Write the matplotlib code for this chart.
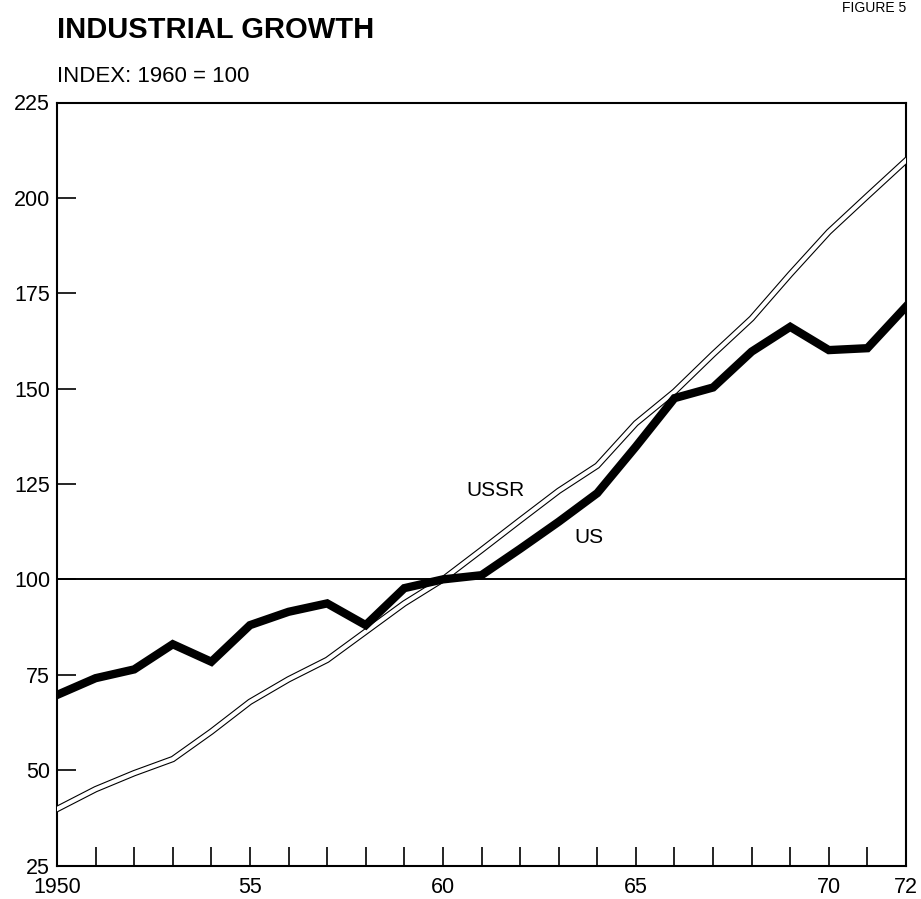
import matplotlib
matplotlib.use("Agg")
import matplotlib.pyplot as plt

plt.rcParams['font.family'] = ['Liberation Sans', 'DejaVu Sans']

years = list(range(1950, 1973))
us = [69.7, 74.1, 76.4, 83.0, 78.4, 88.0, 91.5, 93.7, 88.0, 97.7, 100.0,
      101.1, 108.0, 115.1, 122.6, 134.8, 147.5, 150.3, 159.7, 166.2, 160.1,
      160.6, 171.5]
ussr = [39.8, 45.0, 49.2, 52.9, 60.1, 67.9, 73.8, 78.9, 86.3, 93.7, 100.0,
        107.7, 115.5, 123.2, 129.8, 140.9, 149.2, 159.0, 168.4, 180.0, 191.1,
        200.5, 209.8]
yticks = [25, 50, 75, 100, 125, 150, 175, 200, 225]
xtick_pos = list(range(1950, 1973))
xtick_labels = {1950: "1950", 1955: "55", 1960: "60", 1965: "65", 1970: "70", 1972: "72"}

fig = plt.figure(figsize=(9.21, 8.99), dpi=100)
ax = fig.add_axes([57/921, 1 - 865.5/899, (906-57)/921, (865.5-102.5)/899])

ax.axhline(100, color='black', lw=1.4, zorder=1)
ax.plot(years, ussr, color='black', lw=4.6, solid_joinstyle='miter', zorder=2)
ax.plot(years, ussr, color='white', lw=3.0, solid_joinstyle='miter', zorder=3)
ax.plot(years, us, color='black', lw=6.0, solid_joinstyle='miter', zorder=4)

ax.set_xlim(1950, 1972)
ax.set_ylim(25, 225)
ax.set_yticks(yticks)
ax.set_yticklabels([str(v) for v in yticks], fontsize=15.5)
ax.set_xticks(xtick_pos)
ax.set_xticklabels([xtick_labels.get(y, "") for y in xtick_pos], fontsize=15.5)
ax.tick_params(axis='both', direction='in', length=13.5, width=1.2, color='black')
ax.tick_params(axis='y', pad=5)
ax.tick_params(axis='x', pad=8.5)
for s in ax.spines.values():
    s.set_linewidth(1.5)

ax.text(1961.37, 123.2, "USSR", fontsize=15, ha='center', va='center')
ax.text(1963.78, 111.1, "US", fontsize=15, ha='center', va='center')

fig.text(57/921, 1 - 30/899, "INDUSTRIAL GROWTH", fontsize=21, fontweight='bold',
         ha='left', va='center')
fig.text(57/921, 1 - 76/899, "INDEX: 1960 = 100", fontsize=16, ha='left', va='center')
fig.text(906/921, 1 - 1/899, "FIGURE 5", fontsize=10, ha='right', va='top')

fig.savefig("out.png", dpi=100)
